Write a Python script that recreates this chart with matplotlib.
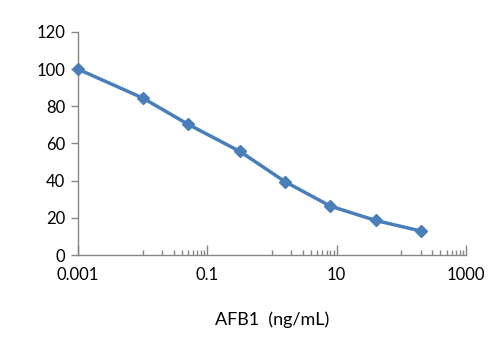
import matplotlib
matplotlib.use("Agg")
import matplotlib.pyplot as plt
import numpy as np
from matplotlib.ticker import FixedLocator, FixedFormatter, NullFormatter

conc = [0.001, 0.01, 0.05, 0.32, 1.6, 8, 40, 200]
inhib = [100, 84.5, 70.4, 55.7, 39.4, 26.3, 18.6, 12.9]
major_ticks = [0.001, 0.1, 10, 1000]
major_labels = ["0.001", "0.1", "10", "1000"]
y_ticks = [0, 20, 40, 60, 80, 100, 120]
xlabel = "AFB1  (ng/mL)"

plt.rcParams['font.family'] = ['Lato', 'DejaVu Sans']
fig = plt.figure(figsize=(4.98, 3.6), dpi=100)
ax = fig.add_axes([78/498, 105/360, (466-78)/498, (255-32)/360])

blue = '#4A7EBB'
ax.plot(conc, inhib, color=blue, lw=2.5, marker='D', ms=6.5, mfc=blue, mec=blue,
        solid_joinstyle='round', solid_capstyle='round', clip_on=False, zorder=3)

ax.set_xscale('log')
ax.set_xlim(0.001, 1000)
ax.set_ylim(0, 120)

minor = []
for base in [0.001, 0.1, 10]:
    for k in range(10, 100, 10):
        minor.append(base * k)
ax.xaxis.set_major_locator(FixedLocator(major_ticks))
ax.xaxis.set_major_formatter(FixedFormatter(major_labels))
ax.xaxis.set_minor_locator(FixedLocator(minor))
ax.xaxis.set_minor_formatter(NullFormatter())
ax.set_yticks(y_ticks)

for s in ['top', 'right']:
    ax.spines[s].set_visible(False)
for s in ['left', 'bottom']:
    ax.spines[s].set_color('#868686')
    ax.spines[s].set_linewidth(1.0)

ax.tick_params(axis='x', which='major', direction='in', length=7, width=1, color='#868686',
               labelsize=12, pad=9)
ax.tick_params(axis='x', which='minor', direction='in', length=3.5, width=1, color='#868686')
ax.tick_params(axis='y', direction='out', length=5, width=1, color='#868686', labelsize=12, pad=4)

ax.set_xlabel(xlabel, fontsize=13, labelpad=20)

fig.savefig('out.png', dpi=100)
